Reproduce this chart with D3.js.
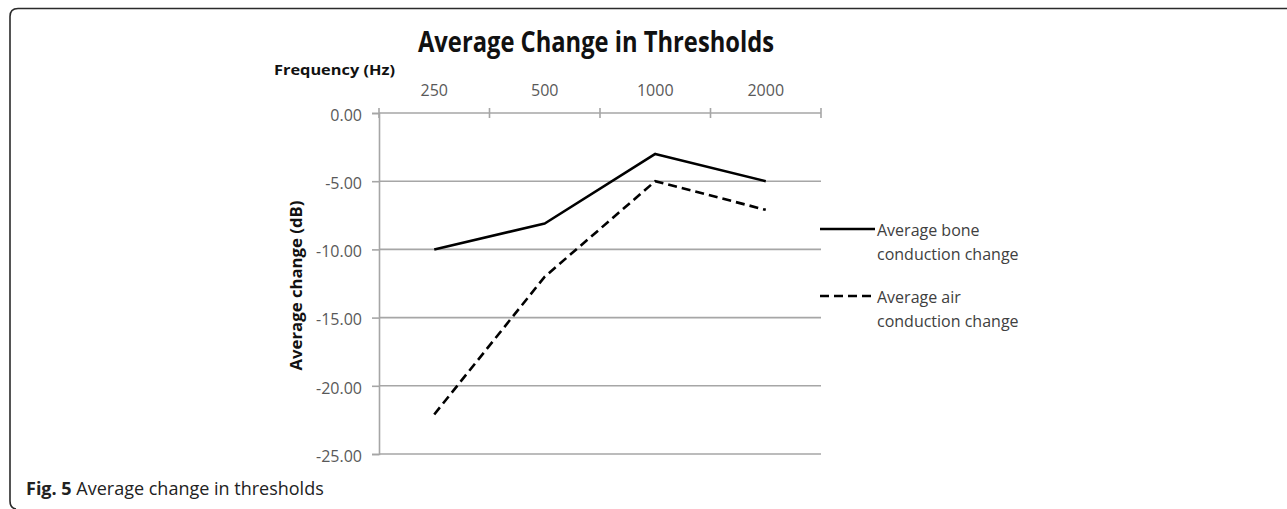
<!DOCTYPE html>
<html><head><meta charset="utf-8">
<script src="https://cdn.jsdelivr.net/npm/d3@7"></script>
<style>
html,body{margin:0;padding:0;background:#fff;}
svg{display:block;}
text{font-family:"Open Sans","Noto Sans",sans-serif;}
</style></head>
<body>
<svg id="chart" width="1287" height="509"></svg>
<script>
const categories = ["250", "500", "1000", "2000"];
const boneValues = [-10, -8.1, -3, -5];
const airValues = [-22.1, -12, -5, -7.1];
const yTicks = [0, -5, -10, -15, -20, -25];
const seriesNames = ["Average bone|conduction change", "Average air|conduction change"];

const svg = d3.select("#chart");
const pLeft = 379, pRight = 821, pTop = 113, pBottom = 454;

// frame
svg.append("path")
  .attr("d", "M1287,8.5 H18 Q10,8.5 10,16.5 V501 Q10,508 16,509")
  .attr("fill", "none").attr("stroke", "#2b2b2b").attr("stroke-width", 1.6);

const x = d3.scaleBand().domain(categories).range([pLeft, pRight]).padding(0);
const y = d3.scaleLinear().domain([-25, 0]).range([pBottom, pTop]);
const grey = "#a6a6a6";

// gridlines
svg.append("g").selectAll("line").data(yTicks.filter(d => d !== 0)).join("line")
  .attr("x1", pLeft).attr("x2", pRight).attr("y1", d => y(d)).attr("y2", d => y(d))
  .attr("stroke", grey).attr("stroke-width", 1.6);

// y axis
const fmt = d3.format(".2f");
const yAxis = d3.axisLeft(y).tickValues(yTicks).tickSize(7).tickPadding(10)
  .tickFormat(d => fmt(d).replace("\u2212", "-"));
const gy = svg.append("g").attr("transform", `translate(${pLeft},0)`).call(yAxis);
gy.select(".domain").attr("stroke", grey).attr("stroke-width", 1.6);
gy.selectAll(".tick line").attr("stroke", grey).attr("stroke-width", 1.6);
gy.selectAll(".tick text").attr("fill", "#595959").attr("dy", "0.45em").style("font-size", "16px")
  .style("font-family", "'Open Sans', sans-serif");

// x axis at top (0 line)
svg.append("line").attr("x1", pLeft).attr("x2", pRight).attr("y1", y(0)).attr("y2", y(0))
  .attr("stroke", grey).attr("stroke-width", 1.6);
const bounds = categories.map(c => x(c)).concat([x(categories[categories.length - 1]) + x.bandwidth()]);
svg.append("g").selectAll("line").data(bounds).join("line")
  .attr("x1", d => d).attr("x2", d => d).attr("y1", y(0) - 5).attr("y2", y(0) + 5)
  .attr("stroke", grey).attr("stroke-width", 1.6);
svg.append("g").selectAll("text").data(categories).join("text")
  .attr("x", d => x(d) + x.bandwidth() / 2).attr("y", 96)
  .attr("text-anchor", "middle").attr("fill", "#595959").style("font-size", "16px")
  .text(d => d);

// lines
const line = d3.line().x((d, i) => x(categories[i]) + x.bandwidth() / 2).y(d => y(d));
svg.append("path").datum(boneValues).attr("d", line).attr("fill", "none")
  .attr("stroke", "#000").attr("stroke-width", 2.6).attr("stroke-linejoin", "round");
svg.append("path").datum(airValues).attr("d", line).attr("fill", "none")
  .attr("stroke", "#000").attr("stroke-width", 2.6).attr("stroke-dasharray", "9,5");

// titles
svg.append("text").attr("x", 596).attr("y", 52).attr("text-anchor", "middle")
  .attr("fill", "#111").style("font-size", "29px").style("font-weight", "bold")
  .attr("textLength", 356).attr("lengthAdjust", "spacingAndGlyphs")
  .text("Average Change in Thresholds");
svg.append("text").attr("x", 274).attr("y", 75).attr("fill", "#111")
  .style("font-size", "15px").style("font-weight", "bold")
  .attr("textLength", 121).attr("lengthAdjust", "spacingAndGlyphs")
  .text("Frequency (Hz)");
svg.append("text").attr("transform", `translate(302,${(pTop + pBottom) / 2 + 2}) rotate(-90)`)
  .attr("text-anchor", "middle").attr("fill", "#111")
  .style("font-size", "15.5px").style("font-weight", "bold")
  .attr("textLength", 170).attr("lengthAdjust", "spacingAndGlyphs")
  .text("Average change (dB)");

// legend
const legY = [229, 296];
const lg = svg.append("g");
seriesNames.forEach((name, i) => {
  lg.append("line").attr("x1", 820).attr("x2", 875).attr("y1", legY[i]).attr("y2", legY[i])
    .attr("stroke", "#000").attr("stroke-width", 2.6)
    .attr("stroke-dasharray", i === 1 ? "9,5" : null);
  const parts = name.split("|");
  parts.forEach((p, j) => {
    lg.append("text").attr("x", 877).attr("y", legY[i] + 7 + j * 24)
      .attr("fill", "#404040").style("font-size", "16px").text(p);
  });
});

// caption
const cap = svg.append("text").attr("x", 26).attr("y", 495).attr("fill", "#222").style("font-size", "18px");
cap.append("tspan").style("font-weight", "bold").text("Fig. 5");
cap.append("tspan").text(" Average change in thresholds");
</script>
</body></html>
